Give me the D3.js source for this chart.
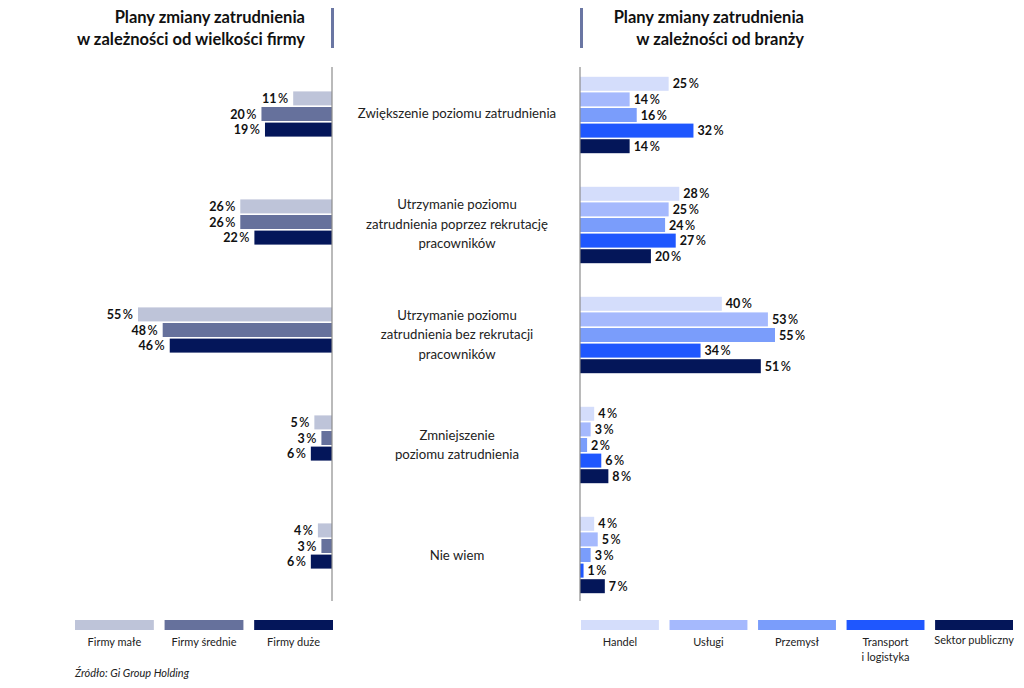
<!DOCTYPE html>
<html><head><meta charset="utf-8">
<script src="https://cdn.jsdelivr.net/npm/d3@7"></script>
<style>body{margin:0;background:#fff}text{font-family:Lato,"Open Sans",sans-serif}</style>
</head><body><svg id="c" width="1024" height="688"></svg>
<script>
const categories = [
  ["Zwiększenie poziomu zatrudnienia"],
  ["Utrzymanie poziomu", "zatrudnienia poprzez rekrutację", "pracowników"],
  ["Utrzymanie poziomu", "zatrudnienia bez rekrutacji", "pracowników"],
  ["Zmniejszenie", "poziomu zatrudnienia"],
  ["Nie wiem"]
];
const sizeSeries = ["Firmy małe", "Firmy średnie", "Firmy duże"];
const firmySmall = [11, 26, 55, 5, 4];
const firmyMedium = [20, 26, 48, 3, 3];
const firmyLarge = [19, 22, 46, 6, 6];
const branchSeries = [["Handel"], ["Usługi"], ["Przemysł"], ["Transport", "i logistyka"], ["Sektor publiczny"]];
const handel = [25, 28, 40, 4, 4];
const uslugi = [14, 25, 53, 3, 5];
const przemysl = [16, 24, 55, 2, 3];
const transport = [32, 27, 34, 6, 1];
const sektor = [14, 20, 51, 8, 7];
const leftTitle = ["Plany zmiany zatrudnienia", "w zależności od wielkości firmy"];
const rightTitle = ["Plany zmiany zatrudnienia", "w zależności od branży"];
const source = "Źródło: Gi Group Holding";

const leftColors = ["#bec4d9", "#66719c", "#04165a"];
const rightColors = ["#d4ddfb", "#a5b9fd", "#7a9dfb", "#1f57fe", "#041659"];

const svg = d3.select("#c");
const idx = d3.range(categories.length);
const leftData = [firmySmall, firmyMedium, firmyLarge];
const rightData = [handel, uslugi, przemysl, transport, sektor];

const x0L = 332, x0R = 580;
const xL = d3.scaleLinear().domain([0, 55]).range([x0L, x0L - 194]);
const xR = d3.scaleLinear().domain([0, 55]).range([x0R, x0R + 195]);
const yL = d3.scaleBand().domain(idx).range([60, 600]);
const yR = d3.scaleBand().domain(idx).range([60, 610]);
const yT = d3.scaleBand().domain(idx).range([58, 610]);
const step = 15.6, bh = 14;

function pct(sel) {
  sel.append("tspan").attr("font-weight", 700).text(d => d.v);
  sel.append("tspan").attr("font-weight", 600).attr("dx", 1.5).text("%");
}

// left bars
leftData.forEach((arr, s) => {
  const g = svg.append("g");
  const data = arr.map((v, i) => ({v, i}));
  g.selectAll("rect").data(data).join("rect")
    .attr("x", d => xL(d.v)).attr("width", d => xL(0) - xL(d.v))
    .attr("y", d => yL(d.i) + yL.bandwidth() / 2 + (s - 1) * step - bh / 2)
    .attr("height", bh).attr("fill", leftColors[s]);
  g.selectAll("text").data(data).join("text")
    .attr("x", d => xL(d.v) - 5)
    .attr("y", d => yL(d.i) + yL.bandwidth() / 2 + (s - 1) * step + 4.5)
    .attr("text-anchor", "end").attr("font-size", 12.5).attr("fill", "#111").call(pct);
});

// right bars
rightData.forEach((arr, s) => {
  const g = svg.append("g");
  const data = arr.map((v, i) => ({v, i}));
  g.selectAll("rect").data(data).join("rect")
    .attr("x", xR(0)).attr("width", d => xR(d.v) - xR(0))
    .attr("y", d => yR(d.i) + yR.bandwidth() / 2 + (s - 2) * step - bh / 2)
    .attr("height", bh).attr("fill", rightColors[s]);
  g.selectAll("text").data(data).join("text")
    .attr("x", d => xR(d.v) + 4)
    .attr("y", d => yR(d.i) + yR.bandwidth() / 2 + (s - 2) * step + 4.5)
    .attr("font-size", 12.5).attr("fill", "#111").call(pct);
});

// axes lines
svg.append("line").attr("x1", x0L).attr("x2", x0L).attr("y1", 67).attr("y2", 601).attr("stroke", "#8c8c8c").attr("stroke-width", 1.2);
svg.append("line").attr("x1", x0R).attr("x2", x0R).attr("y1", 67).attr("y2", 601).attr("stroke", "#8c8c8c").attr("stroke-width", 1.2);

// category labels
const cat = svg.append("g");
categories.forEach((lines, i) => {
  const cy = yT(i) + yT.bandwidth() / 2;
  const lh = 19.5;
  const t = cat.append("text").attr("text-anchor", "middle").attr("font-size", 13.2).attr("fill", "#222");
  lines.forEach((l, k) => {
    t.append("tspan").attr("x", 457).attr("y", cy + (k - (lines.length - 1) / 2) * lh + 5).text(l);
  });
});

// titles
const tl = svg.append("text").attr("text-anchor", "end").attr("font-size", 16.5).attr("font-weight", 700).attr("fill", "#111");
leftTitle.forEach((l, k) => tl.append("tspan").attr("x", 305).attr("y", 23 + k * 22).text(l));
const tr = svg.append("text").attr("text-anchor", "end").attr("font-size", 16.5).attr("font-weight", 700).attr("fill", "#111");
rightTitle.forEach((l, k) => tr.append("tspan").attr("x", 804).attr("y", 23 + k * 22).text(l));
svg.append("rect").attr("x", 331).attr("y", 8).attr("width", 3).attr("height", 40).attr("fill", "#6a76a3");
svg.append("rect").attr("x", 580).attr("y", 8).attr("width", 3).attr("height", 40).attr("fill", "#6a76a3");

// legends
const legL = d3.scaleBand().domain(d3.range(sizeSeries.length)).range([75, 333]).paddingInner(0.12);
sizeSeries.forEach((n, i) => {
  svg.append("rect").attr("x", legL(i)).attr("y", 620).attr("width", legL.bandwidth()).attr("height", 10).attr("fill", leftColors[i]);
  svg.append("text").attr("x", legL(i) + legL.bandwidth() / 2).attr("y", 646).attr("text-anchor", "middle")
    .attr("font-size", 11).attr("fill", "#222").text(n);
});
const legR = d3.scaleBand().domain(d3.range(branchSeries.length)).range([581, 1013]).paddingInner(0.12);
branchSeries.forEach((lines, i) => {
  svg.append("rect").attr("x", legR(i)).attr("y", 620).attr("width", legR.bandwidth()).attr("height", 10).attr("fill", rightColors[i]);
  const t = svg.append("text").attr("text-anchor", "middle").attr("font-size", 11).attr("fill", "#222");
  lines.forEach((l, k) => t.append("tspan").attr("x", legR(i) + legR.bandwidth() / 2).attr("y", (i === 4 ? 644 : 646) + k * 15).text(l));
});

svg.append("text").attr("x", 75).attr("y", 677).attr("font-size", 11).attr("font-style", "italic").attr("fill", "#222").text(source);
</script></body></html>
